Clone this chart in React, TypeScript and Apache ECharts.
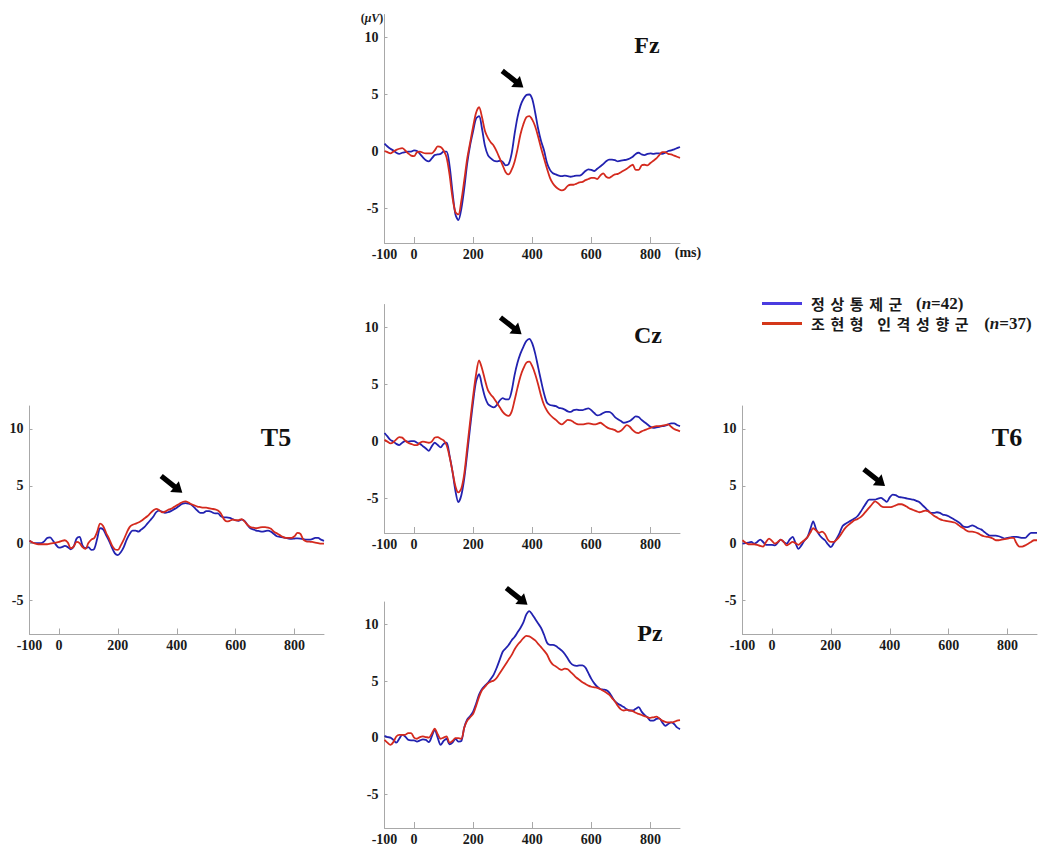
import React, { useEffect, useRef } from "react";
import * as echarts from "echarts";

// time points (ms)
const TIMES = [
  -100, -90, -80, -70, -60, -50, -40, -30, -20, -10,
  0, 10, 20, 30, 40, 50, 60, 70, 80, 90,
  100, 110, 120, 130, 140, 150, 160, 170, 180, 190,
  200, 210, 220, 230, 240, 250, 260, 270, 280, 290,
  300, 310, 320, 330, 340, 350, 360, 370, 380, 390,
  400, 410, 420, 430, 440, 450, 460, 470, 480, 490,
  500, 510, 520, 530, 540, 550, 560, 570, 580, 590,
  600, 610, 620, 630, 640, 650, 660, 670, 680, 690,
  700, 710, 720, 730, 740, 750, 760, 770, 780, 790,
  800, 810, 820, 830, 840, 850, 860, 870, 880, 890,
  900,
];

const FZ_NORMAL = [
  0.7, 0.45, 0.25, 0.1, -0.1, -0.2, -0.1, -0.05, 0, 0,
  0.1, 0.05, -0.2, -0.5, -0.75, -0.85, -0.6, -0.3, -0.25, -0.2,
  0, 0, -1.2, -3.5, -5.5, -6.0, -5.0, -3.2, -1.0, 0.6,
  1.8, 2.9, 3.1, 2.0, 0.5, -0.3, -0.6, -0.8, -0.85, -0.8,
  -0.9, -1.2, -1.1, -0.2, 1.5, 3.0, 4.0, 4.6, 4.95, 5.0,
  4.6, 3.4, 2.0, 0.9, 0.1, -1.0, -1.6, -1.9, -2.0, -2.1,
  -2.15, -2.1, -2.15, -2.2, -2.15, -2.1, -2.1, -1.95, -1.7, -1.55,
  -1.6, -1.7, -1.5, -1.3, -1.1, -0.85, -0.7, -0.7, -0.75, -0.85,
  -0.8, -0.75, -0.7, -0.6, -0.45, -0.2, -0.1, -0.25, -0.3, -0.2,
  -0.15, -0.2, -0.15, -0.15, -0.2, -0.1, 0.05, 0.1, 0.2, 0.3,
  0.4,
];
const FZ_SCHIZO = [
  0.05, -0.05, -0.15, 0, 0.15, 0.25, 0.3, 0.1, -0.15, -0.35,
  -0.4, -0.05, 0, -0.1, -0.15, -0.15, -0.15, 0.1, 0.45, 0.4,
  0.1, -0.5, -2.0, -4.0, -5.3, -5.5, -4.3, -2.5, -0.6, 0.8,
  2.2, 3.4, 3.9, 3.0, 1.8, 1.2, 0.8, 0.5, 0.0, -0.6,
  -1.2, -1.8, -2.0, -1.6, -0.9, 0.2, 1.5, 2.4, 3.0, 3.1,
  2.8, 2.2, 1.3, 0.3, -0.6, -1.5, -2.3, -2.8, -3.1, -3.3,
  -3.4, -3.3, -3.0, -2.9, -2.9, -2.8, -2.7, -2.65, -2.5, -2.4,
  -2.3, -2.3, -2.4, -2.1, -1.9, -2.2, -2.3, -2.15, -2.0, -1.95,
  -1.8, -1.65, -1.5, -1.3, -1.15, -1.6, -1.6, -1.2, -1.15, -1.2,
  -1.0, -0.8, -0.6, -0.3, -0.05, -0.05, -0.2, -0.25, -0.35, -0.45,
  -0.55,
];

const CZ_NORMAL = [
  0.75, 0.45, 0.15, 0.0, -0.2, -0.3, -0.1, 0.05, 0.0, 0.05,
  0.05, -0.1, -0.2, -0.4, -0.6, -0.8, -0.4, -0.1, -0.3, -0.5,
  -0.2, -0.1, -1.2, -2.6, -4.3, -5.3, -4.7, -3.2, -1.0, 1.3,
  3.5, 5.3, 5.9, 4.9, 3.9, 3.3, 3.1, 3.0, 3.2, 3.6,
  3.8, 3.7, 3.7, 4.4, 5.8, 6.9, 7.7, 8.3, 8.8, 9.0,
  8.6, 7.7, 6.5, 5.3, 4.2, 3.4, 3.2, 3.15, 3.1, 2.95,
  2.9, 2.8, 2.65, 2.6, 2.75, 2.8, 2.75, 2.75, 2.85, 2.9,
  2.75, 2.5, 2.3, 2.35, 2.5, 2.6, 2.6, 2.45, 2.15, 1.95,
  1.8, 1.65, 1.7, 1.8, 2.0, 2.2, 2.15, 1.9, 1.7, 1.5,
  1.3, 1.2, 1.25, 1.3, 1.35, 1.4, 1.5, 1.6, 1.6, 1.45,
  1.35,
];
const CZ_SCHIZO = [
  0.15, 0.0, -0.15, -0.05, 0.2, 0.4, 0.35, 0.1, -0.1, -0.2,
  -0.3, -0.3, -0.1, 0.0, -0.05, -0.1, 0.0, 0.35, 0.4, 0.25,
  0.1, -0.3, -1.3, -2.6, -3.9, -4.45, -4.1, -2.8, -0.5, 1.8,
  4.0, 5.9, 7.1, 6.4, 5.4, 4.5, 4.1, 3.8, 3.4, 3.0,
  2.6, 2.35, 2.25, 2.6, 3.6, 4.7, 5.7, 6.4, 6.9, 7.0,
  6.6, 5.9, 5.0, 4.0, 3.2, 2.7, 2.35, 2.1, 1.9, 1.65,
  1.5, 1.7, 1.9, 1.85, 1.7, 1.55, 1.5, 1.5, 1.55, 1.6,
  1.55, 1.5, 1.55, 1.65, 1.5, 1.3, 1.15, 1.1, 1.0, 0.85,
  0.95, 1.2, 1.45, 1.3, 1.0, 0.8, 0.75, 0.9, 1.0, 1.1,
  1.2, 1.3, 1.35, 1.35, 1.4, 1.45, 1.5, 1.3, 1.1, 1.0,
  0.9,
];

const PZ_NORMAL = [
  0.15, 0.05, 0.0, -0.2, -0.45, -0.1, 0.25, 0.1, -0.2, -0.25,
  -0.25, -0.35, -0.25, -0.15, -0.2, -0.4, 0.1, 0.7, 0.0, -0.65,
  -0.3, -0.1, -0.6, -0.45, -0.1, -0.35, -0.3, 0.9, 1.6, 1.9,
  2.3, 3.0, 3.8, 4.3, 4.6, 4.85, 5.2, 5.6, 6.2, 6.9,
  7.6, 7.9, 8.2, 8.6, 8.9, 9.3, 9.7, 10.2, 10.9, 11.2,
  10.9, 10.5, 10.1, 9.7, 9.1, 8.4, 8.2, 8.2, 8.1, 7.9,
  7.7, 7.4, 7.0, 6.6, 6.4, 6.35, 6.4, 6.4, 6.2, 5.7,
  5.2, 4.8, 4.5, 4.3, 4.25, 4.2, 4.0, 3.6, 3.2, 3.0,
  2.85, 2.7, 2.5, 2.4, 2.4, 2.55, 2.7, 2.3, 2.0, 1.8,
  1.5, 1.5, 1.65, 1.7, 1.35, 1.05, 1.2, 1.35, 1.2, 0.9,
  0.75,
];
const PZ_SCHIZO = [
  -0.2, -0.45, -0.65, -0.4, 0.1, 0.25, 0.25, 0.25, 0.4, 0.4,
  0.0, -0.1, 0.05, 0.1, 0.05, 0.0, 0.35, 0.8, 0.3, -0.1,
  0.0, 0.1, -0.45, -0.3, -0.05, -0.05, -0.1, 0.9, 1.5, 1.8,
  2.1, 2.8, 3.6, 4.2, 4.5, 4.8, 4.95, 5.05, 5.3, 5.7,
  6.1, 6.5, 6.9, 7.3, 7.8, 8.2, 8.5, 8.8, 9.0, 8.95,
  8.8, 8.6, 8.3, 8.0, 7.7, 7.35, 6.8, 6.45, 6.3, 6.1,
  6.0, 6.1, 6.05, 5.8, 5.55, 5.3, 5.1, 4.9, 4.75, 4.6,
  4.5, 4.45, 4.4, 4.3, 4.15, 4.0, 3.8, 3.5, 3.2, 2.8,
  2.5, 2.4, 2.45, 2.4, 2.35, 2.2, 2.1, 2.0, 1.9, 1.8,
  1.75, 1.8, 1.85, 1.7, 1.5, 1.4, 1.35, 1.35, 1.4, 1.5,
  1.55,
];

const T5_NORMAL = [
  0.2, 0.05, 0.0, 0.0, 0.0, 0.15, 0.45, 0.5, 0.2, -0.15,
  -0.4, -0.35, -0.25, -0.35, -0.55, -0.3, 0.4, 0.55, -0.2, -0.45,
  -0.35, -0.6, -0.5, 0.4, 1.3, 1.2, 0.7, 0.2, -0.4, -0.9,
  -1.05, -0.8, -0.35, 0.3, 0.8, 1.1, 1.1, 1.0, 1.2, 1.4,
  1.7, 2.0, 2.3, 2.7, 2.85, 2.75, 2.65, 2.7, 2.8, 2.95,
  3.1, 3.3, 3.45, 3.5, 3.45, 3.35, 3.1, 2.85, 2.65, 2.65,
  2.8, 2.8, 2.7, 2.6, 2.6, 2.35, 2.25, 2.25, 2.2, 2.1,
  2.0, 1.95, 2.05, 1.95, 1.6, 1.3, 1.2, 1.1, 1.05, 1.0,
  1.05, 1.1, 1.0, 0.8, 0.6, 0.55, 0.5, 0.45, 0.4, 0.38,
  0.4, 0.42, 0.4, 0.35, 0.3, 0.3, 0.35, 0.45, 0.45, 0.3,
  0.2,
];
const T5_SCHIZO = [
  0.2, 0.05, -0.05, -0.1, -0.1, -0.1, -0.1, -0.05, 0.0, 0.05,
  0.1, 0.2, 0.25, 0.05, -0.45, -0.3, 0.1, 0.0, -0.35, -0.5,
  0.0, 0.3, 0.45, 1.0, 1.7, 1.5, 0.9, 0.4, -0.2, -0.55,
  -0.6, -0.2, 0.3, 0.9, 1.4, 1.6, 1.7, 1.8, 1.95, 2.15,
  2.35, 2.6, 2.85, 3.0, 2.9, 2.7, 2.75, 2.9, 3.0, 3.15,
  3.3, 3.45, 3.6, 3.65, 3.55, 3.4, 3.3, 3.2, 3.15, 3.1,
  3.1, 3.05, 3.0, 2.95, 2.85, 2.6, 2.1, 1.9, 1.95, 2.05,
  2.0, 2.0, 2.1, 1.9, 1.6, 1.4, 1.35, 1.3, 1.35, 1.4,
  1.4, 1.35, 1.25, 1.0, 0.85, 0.7, 0.55, 0.45, 0.45, 0.45,
  0.6, 0.9, 0.8, 0.3, 0.15, 0.12, 0.1, 0.05, 0.0, -0.05,
  -0.05,
];

const T6_NORMAL = [
  -0.05, 0.0, 0.05, 0.1, -0.05, 0.1, 0.3, 0.1, -0.15, -0.15,
  -0.15, -0.2, 0.05, 0.3, 0.1, -0.05, 0.3, 0.55, 0.0, -0.5,
  -0.2, 0.2, 0.5, 1.2, 1.9, 1.2, 0.75, 0.45, 0.25, -0.1,
  -0.35, 0.0, 0.4, 0.9, 1.5, 1.7, 1.85, 2.0, 2.15, 2.35,
  2.7, 3.1, 3.5, 3.8, 3.8, 3.8, 3.9, 3.95, 3.8, 3.6,
  4.0, 4.25, 4.2, 4.05, 4.0, 3.95, 3.9, 3.85, 3.8, 3.7,
  3.6, 3.35, 3.1, 2.85, 2.65, 2.65, 2.7, 2.65, 2.5, 2.45,
  2.35, 2.2, 2.05, 1.9, 1.7, 1.45, 1.4, 1.45, 1.55, 1.45,
  1.3, 1.2, 1.0, 0.8, 0.65, 0.65, 0.65, 0.6, 0.5, 0.4,
  0.45, 0.5, 0.55, 0.55, 0.5, 0.45, 0.45, 0.7, 0.9, 0.9,
  0.9,
];
const T6_SCHIZO = [
  0.25, 0.05, -0.1, -0.1, -0.1, -0.15, -0.25, -0.3, 0.1, 0.4,
  0.2, -0.05, 0.1, 0.3, 0.1, -0.2, -0.05, 0.1, 0.0, -0.15,
  0.05, 0.25, 0.5, 0.9, 1.3, 1.1, 0.9, 1.0, 0.8, 0.3,
  0.1, 0.1, 0.3, 0.6, 1.0, 1.35, 1.6, 1.8, 2.0, 2.1,
  2.25, 2.5, 2.8, 3.1, 3.4, 3.65, 3.5, 3.25, 3.15, 3.15,
  3.15, 3.2, 3.3, 3.4, 3.4, 3.3, 3.15, 3.0, 2.9, 2.8,
  2.7, 2.75, 2.85, 2.8, 2.6, 2.4, 2.25, 2.1, 2.0, 1.95,
  1.9, 1.85, 1.8, 1.65, 1.45, 1.3, 1.1, 1.0, 1.0, 0.95,
  0.85, 0.7, 0.6, 0.55, 0.5, 0.4, 0.25, 0.25, 0.3, 0.35,
  0.4, 0.45, 0.45, 0.0, -0.3, -0.3, -0.2, -0.05, 0.1, 0.25,
  0.25,
];

const ELECTRODES = ["Fz", "Cz", "Pz", "T5", "T6"];
const NORMAL_SERIES = [FZ_NORMAL, CZ_NORMAL, PZ_NORMAL, T5_NORMAL, T6_NORMAL];
const SCHIZO_SERIES = [FZ_SCHIZO, CZ_SCHIZO, PZ_SCHIZO, T5_SCHIZO, T6_SCHIZO];
// arrow tip positions in data coordinates [ms, µV]
const ARROW_TIPS = [
  [370, 5.6],
  [364, 9.4],
  [384, 11.75],
  [419, 4.4],
  [384, 5.0],
];

const GROUP_NAMES = ["정상통제군", "조현형 인격성향군"];
const GROUP_N = [42, 37];

const Y_MIN = -8;
const Y_MAX = 12;
const Y_LABELS = [-5, 0, 5, 10];
const X_MIN = -100;
const X_MAX = 900;
const X_LABELS = [-100, 0, 200, 400, 600, 800];
const X_TICKS = [0, 200, 400, 600, 800];

// layout
const GRIDS = [
  { left: 384.5, top: 14.5, width: 295.5, height: 228.5 },
  { left: 384.5, top: 304.5, width: 295.5, height: 228.5 },
  { left: 384.5, top: 602, width: 295.5, height: 228.5 },
  { left: 29.5, top: 406, width: 294.5, height: 228.5 },
  { left: 742.5, top: 406, width: 294.5, height: 228.5 },
];
const TITLE_POS = [
  [647, 45],
  [648, 335],
  [650, 633],
  [276, 437],
  [1007, 437],
];
const TITLE_SIZE = [24, 24, 24, 26, 26];
const LEGEND_GAP = [8, 10];

const BLUE = "#2222b0";
const RED = "#d42a1e";
const LEGEND_BLUE = "#4a3ce0";
const LEGEND_RED = "#d4381a";
const AXIS_GRAY = "#a8a8a8";
const SERIF = "'Liberation Serif', 'Times New Roman', serif";
const KR = "'Noto Sans CJK KR', 'Noto Sans', sans-serif";

function spaced(s: string) {
  return s
    .split(" ")
    .map((w) => Array.from(w).map((c) => "{k|" + c + "}").join(""))
    .join("{s| }");
}

export default function App() {
  const ref = useRef<HTMLDivElement>(null);

  useEffect(() => {
    if (!ref.current) return;
    const chart = echarts.init(ref.current, undefined, { renderer: "svg" });

    const grid = GRIDS.map((g) => ({ ...g, containLabel: false }));
    const xAxis = GRIDS.map((_, i) => ({
      type: "value",
      gridIndex: i,
      min: X_MIN,
      max: X_MAX,
      splitLine: { show: false },
      axisLine: { show: true, onZero: false, lineStyle: { color: AXIS_GRAY, width: 1 } },
      axisTick: {
        show: true,
        inside: true,
        length: 6,
        customValues: X_TICKS,
        lineStyle: { color: AXIS_GRAY },
      },
      axisLabel: {
        show: true,
        customValues: X_LABELS,
        margin: 4,
        color: "#1a1a1a",
        fontFamily: SERIF,
        fontWeight: "bold",
        fontSize: 14,
      },
    }));
    const yAxis = GRIDS.map((_, i) => ({
      type: "value",
      gridIndex: i,
      min: Y_MIN,
      max: Y_MAX,
      splitLine: { show: false },
      axisLine: { show: true, onZero: false, lineStyle: { color: AXIS_GRAY, width: 1 } },
      axisTick: {
        show: true,
        inside: true,
        length: 3,
        customValues: Y_LABELS,
        lineStyle: { color: AXIS_GRAY },
      },
      axisLabel: {
        show: true,
        customValues: Y_LABELS,
        margin: 6,
        color: "#1a1a1a",
        fontFamily: SERIF,
        fontWeight: "bold",
        fontSize: 14,
      },
    }));

    const series: any[] = [];
    ELECTRODES.forEach((name, i) => {
      series.push({
        name: name + " " + GROUP_NAMES[0],
        type: "line",
        xAxisIndex: i,
        yAxisIndex: i,
        showSymbol: false,
        smooth: 0.3,
        lineStyle: { color: BLUE, width: 1.8 },
        itemStyle: { color: BLUE },
        data: TIMES.map((t, k) => [t, NORMAL_SERIES[i][k]]),
      });
      series.push({
        name: name + " " + GROUP_NAMES[1],
        type: "line",
        xAxisIndex: i,
        yAxisIndex: i,
        showSymbol: false,
        smooth: 0.3,
        lineStyle: { color: RED, width: 1.8 },
        itemStyle: { color: RED },
        data: TIMES.map((t, k) => [t, SCHIZO_SERIES[i][k]]),
      });
    });

    chart.setOption({
      animation: false,
      backgroundColor: "#ffffff",
      grid,
      xAxis,
      yAxis,
      series,
    });

    const graphics: any[] = [];
    ELECTRODES.forEach((name, i) => {
      graphics.push({
        type: "text",
        x: TITLE_POS[i][0],
        y: TITLE_POS[i][1],
        style: {
          text: name,
          fill: "#111",
          font: `bold ${TITLE_SIZE[i]}px ${SERIF}`,
          textAlign: "center",
          textVerticalAlign: "middle",
        },
      });
      const tip = chart.convertToPixel({ gridIndex: i } as any, ARROW_TIPS[i]) as number[];
      graphics.push({
        type: "polygon",
        x: tip[0],
        y: tip[1],
        rotation: -0.67,
        shape: {
          points: [
            [-27, -2.6],
            [-10, -2.6],
            [-10, -7],
            [0, 0],
            [-10, 7],
            [-10, 2.6],
            [-27, 2.6],
          ],
        },
        style: { fill: "#000" },
      });
    });

    // axis unit labels on Fz
    graphics.push({
      type: "text",
      x: 372,
      y: 18,
      style: {
        text: "{p|(}{i|μV}{p|)}",
        textAlign: "center",
        textVerticalAlign: "middle",
        rich: {
          p: { fontFamily: SERIF, fontWeight: "bold", fontSize: 12, fill: "#1a1a1a" },
          i: { fontFamily: SERIF, fontWeight: "bold", fontStyle: "italic", fontSize: 12, fill: "#1a1a1a" },
        },
      },
    });
    graphics.push({
      type: "text",
      x: 688,
      y: 252,
      style: {
        text: "(ms)",
        fill: "#1a1a1a",
        font: `bold 14px ${SERIF}`,
        textAlign: "center",
        textVerticalAlign: "middle",
      },
    });

    // legend
    const legendColors = [LEGEND_BLUE, LEGEND_RED];
    const legendY = [303.5, 323.5];
    GROUP_NAMES.forEach((g, k) => {
      graphics.push({
        type: "line",
        shape: { x1: 762, y1: legendY[k], x2: 802, y2: legendY[k] },
        style: { stroke: legendColors[k], lineWidth: 3 },
      });
      graphics.push({
        type: "text",
        x: 811,
        y: legendY[k],
        style: {
          text: spaced(g) + "{g| }{p|(}{i|n}{p|=" + GROUP_N[k] + ")}",
          textVerticalAlign: "middle",
          rich: {
            k: { fontFamily: KR, fontWeight: "bold", fontSize: 15, lineHeight: 14, width: 19.4, fill: "#1a1a1a" },
            s: { fontFamily: KR, fontSize: 15, lineHeight: 14, width: 8 },
            g: { fontFamily: KR, fontSize: 15, lineHeight: 14, width: LEGEND_GAP[k] },
            p: { fontFamily: SERIF, fontWeight: "bold", fontSize: 17, lineHeight: 14, fill: "#1a1a1a" },
            i: { fontFamily: SERIF, fontWeight: "bold", fontStyle: "italic", fontSize: 17, lineHeight: 14, fill: "#1a1a1a" },
          },
        },
      });
    });

    chart.setOption({ graphic: graphics });

    return () => {
      chart.dispose();
    };
  }, []);

  return (
    <div
      ref={ref}
      style={{ position: "absolute", left: 0, top: 0, width: 1043, height: 846, background: "#fff" }}
    />
  );
}
